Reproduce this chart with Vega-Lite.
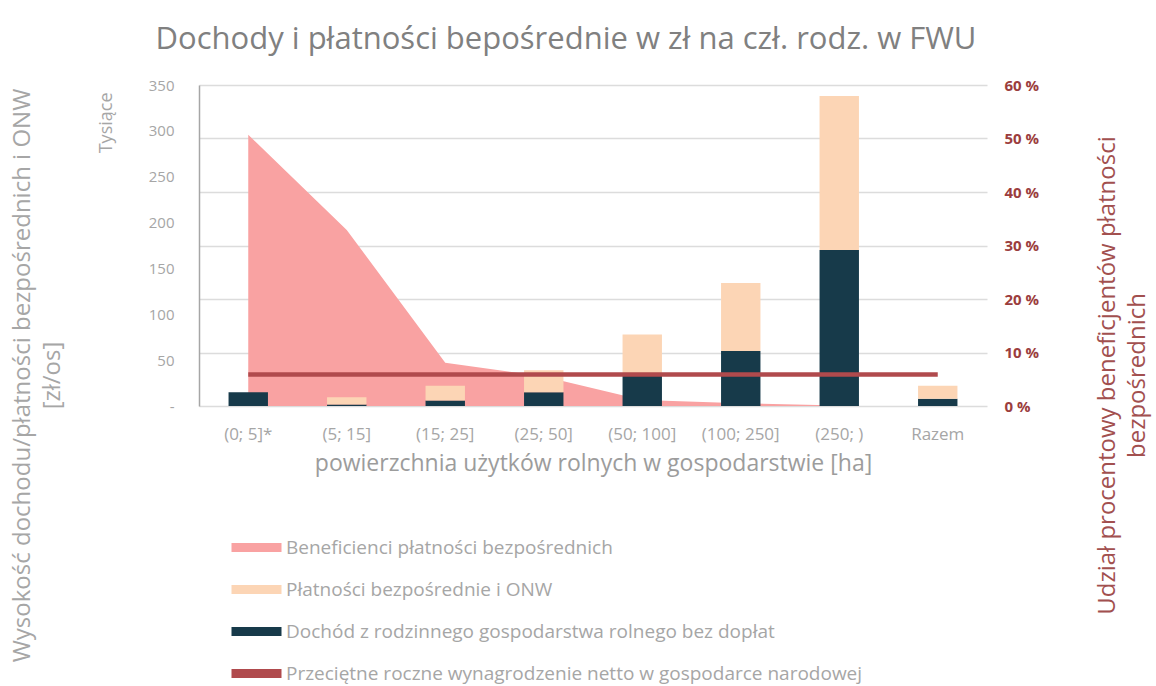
{
  "$schema": "https://vega.github.io/schema/vega-lite/v6.json",
  "width": 788,
  "height": 321,
  "autosize": {"type": "none"},
  "padding": {"left": 199, "top": 85, "right": 169, "bottom": 280},
  "background": "white",
  "config": {
    "font": "Open Sans",
    "view": {"stroke": null},
    "axisX": {"labelAngle": 0, "ticks": false, "domain": false, "grid": false, "labelColor": "#a6a6a6", "labelFontSize": 17, "labelPadding": 20, "titleColor": "#9c9c9c", "titleFontSize": 23, "titleFontWeight": "normal", "titlePadding": 10},
    "legend": {"labelFont": "Open Sans", "labelFontSize": 19, "labelColor": "#a6a6a6", "labelLimit": 800}
  },
  "title": {"text": "Dochody i płatności bepośrednie  w zł na czł. rodz. w FWU", "font": "Open Sans", "fontSize": 31, "fontWeight": "normal", "color": "#808080", "anchor": "middle", "baseline": "bottom", "offset": -9, "dx": -27},
  "datasets": {
    "bars": [
      {"cat": "(0; 5]*", "series": "Dochód z rodzinnego gospodarstwa rolnego bez dopłat", "value": 15, "ord": 1},
      {"cat": "(0; 5]*", "series": "Płatności bezpośrednie i ONW", "value": 0, "ord": 2},
      {"cat": "(5; 15]", "series": "Dochód z rodzinnego gospodarstwa rolnego bez dopłat", "value": 1.5, "ord": 1},
      {"cat": "(5; 15]", "series": "Płatności bezpośrednie i ONW", "value": 8, "ord": 2},
      {"cat": "(15; 25]", "series": "Dochód z rodzinnego gospodarstwa rolnego bez dopłat", "value": 6, "ord": 1},
      {"cat": "(15; 25]", "series": "Płatności bezpośrednie i ONW", "value": 16, "ord": 2},
      {"cat": "(25; 50]", "series": "Dochód z rodzinnego gospodarstwa rolnego bez dopłat", "value": 15, "ord": 1},
      {"cat": "(25; 50]", "series": "Płatności bezpośrednie i ONW", "value": 24, "ord": 2},
      {"cat": "(50; 100]", "series": "Dochód z rodzinnego gospodarstwa rolnego bez dopłat", "value": 36, "ord": 1},
      {"cat": "(50; 100]", "series": "Płatności bezpośrednie i ONW", "value": 42, "ord": 2},
      {"cat": "(100; 250]", "series": "Dochód z rodzinnego gospodarstwa rolnego bez dopłat", "value": 60, "ord": 1},
      {"cat": "(100; 250]", "series": "Płatności bezpośrednie i ONW", "value": 74, "ord": 2},
      {"cat": "(250; )", "series": "Dochód z rodzinnego gospodarstwa rolnego bez dopłat", "value": 170, "ord": 1},
      {"cat": "(250; )", "series": "Płatności bezpośrednie i ONW", "value": 168, "ord": 2},
      {"cat": "Razem", "series": "Dochód z rodzinnego gospodarstwa rolnego bez dopłat", "value": 8, "ord": 1},
      {"cat": "Razem", "series": "Płatności bezpośrednie i ONW", "value": 14, "ord": 2}
    ],
    "area": [
      {"cat": "(0; 5]*", "series": "Beneficienci płatności bezpośrednich", "pct": 50.7},
      {"cat": "(5; 15]", "series": "Beneficienci płatności bezpośrednich", "pct": 32.9},
      {"cat": "(15; 25]", "series": "Beneficienci płatności bezpośrednich", "pct": 8.1},
      {"cat": "(25; 50]", "series": "Beneficienci płatności bezpośrednich", "pct": 5.5},
      {"cat": "(50; 100]", "series": "Beneficienci płatności bezpośrednich", "pct": 1.1},
      {"cat": "(100; 250]", "series": "Beneficienci płatności bezpośrednich", "pct": 0.5},
      {"cat": "(250; )", "series": "Beneficienci płatności bezpośrednich", "pct": 0.1}
    ],
    "line": [
      {"cat": "(0; 5]*", "series": "Przeciętne roczne wynagrodzenie netto w gospodarce narodowej", "value": 34.3},
      {"cat": "(5; 15]", "series": "Przeciętne roczne wynagrodzenie netto w gospodarce narodowej", "value": 34.3},
      {"cat": "(15; 25]", "series": "Przeciętne roczne wynagrodzenie netto w gospodarce narodowej", "value": 34.3},
      {"cat": "(25; 50]", "series": "Przeciętne roczne wynagrodzenie netto w gospodarce narodowej", "value": 34.3},
      {"cat": "(50; 100]", "series": "Przeciętne roczne wynagrodzenie netto w gospodarce narodowej", "value": 34.3},
      {"cat": "(100; 250]", "series": "Przeciętne roczne wynagrodzenie netto w gospodarce narodowej", "value": 34.3},
      {"cat": "(250; )", "series": "Przeciętne roczne wynagrodzenie netto w gospodarce narodowej", "value": 34.3},
      {"cat": "Razem", "series": "Przeciętne roczne wynagrodzenie netto w gospodarce narodowej", "value": 34.3}
    ]
  },
  "layer": [
    {
      "data": {"name": "area"},
      "mark": {"type": "area", "opacity": 1},
      "encoding": {
        "x": {"field": "cat", "type": "nominal", "title": "powierzchnia użytków rolnych w gospodarstwie [ha]",
              "scale": {"type": "band", "paddingInner": 0.6, "paddingOuter": 0.3, "domain": ["(0; 5]*", "(5; 15]", "(15; 25]", "(25; 50]", "(50; 100]", "(100; 250]", "(250; )", "Razem"]}},
        "y": {"field": "pct", "type": "quantitative",
              "scale": {"domain": [0, 60], "nice": false},
              "axis": {"orient": "right", "values": [0, 10, 20, 30, 40, 50, 60], "labelExpr": "datum.value + ' %'",
                       "grid": true, "gridColor": "#dcdcdc", "gridWidth": 1.5, "ticks": false, "domain": false,
                       "labelColor": "#9b3d3d", "labelFontSize": 15, "labelFontWeight": "bold", "labelPadding": 17,
                       "title": ["Udział procentowy beneficjentów płatności", "bezpośrednich"],
                       "titleAngle": -90, "titleX": 108, "titleY": 290, "titleAlign": "center", "titleBaseline": "top",
                       "titleFontSize": 24, "titleLineHeight": 30, "titleColor": "#a2504f", "titleFontWeight": "normal"}},
        "color": {"field": "series", "type": "nominal",
                  "scale": {"domain": ["Beneficienci płatności bezpośrednich", "Płatności bezpośrednie i ONW", "Dochód z rodzinnego gospodarstwa rolnego bez dopłat", "Przeciętne roczne wynagrodzenie netto w gospodarce narodowej"],
                            "range": ["#f9a2a2", "#fcd5b5", "#173a4a", "#b04a4d"]},
                  "legend": {"orient": "none", "legendX": 28, "legendY": 448, "title": null, "direction": "vertical",
                             "symbolType": "M-1,0H4", "symbolSize": 400, "symbolStrokeWidth": 9, "rowPadding": 5, "labelOffset": 30,
                             "encode": {"symbols": {"update": {
                               "fill": {"value": "transparent"},
                               "stroke": {"scale": "color", "field": "value"},
                               "strokeOpacity": {"value": 1},
                               "opacity": {"value": 1},
                               "strokeWidth": {"signal": "indexof(datum.label, 'Przeci') === 0 ? 4 : 9"}}}}}}
      }
    },
    {
      "data": {"name": "bars"},
      "mark": {"type": "bar"},
      "encoding": {
        "x": {"field": "cat", "type": "nominal", "title": "powierzchnia użytków rolnych w gospodarstwie [ha]",
              "scale": {"type": "band", "paddingInner": 0.6, "paddingOuter": 0.3, "domain": ["(0; 5]*", "(5; 15]", "(15; 25]", "(25; 50]", "(50; 100]", "(100; 250]", "(250; )", "Razem"]}},
        "y": {"field": "value", "type": "quantitative", "stack": "zero",
              "scale": {"domain": [0, 350], "nice": false},
              "axis": {"orient": "left", "values": [0, 50, 100, 150, 200, 250, 300, 350],
                       "labelExpr": "datum.value === 0 ? '-' : datum.label",
                       "grid": false, "ticks": false, "domain": true, "domainColor": "#a6a6a6", "domainWidth": 1.5,
                       "labelColor": "#a6a6a6", "labelFontSize": 15, "labelPadding": 25,
                       "title": "Tysiące", "titleAngle": -90, "titleX": -102, "titleY": 7, "titleAlign": "right", "titleBaseline": "top",
                       "titleFontSize": 18, "titleFontWeight": "normal", "titleColor": "#a6a6a6"}},
        "color": {"field": "series", "type": "nominal"},
        "order": {"field": "ord", "type": "quantitative"}
      }
    },
    {
      "data": {"name": "line"},
      "mark": {"type": "line", "strokeWidth": 4.5},
      "encoding": {
        "x": {"field": "cat", "type": "nominal", "title": "powierzchnia użytków rolnych w gospodarstwie [ha]",
              "scale": {"type": "band", "paddingInner": 0.6, "paddingOuter": 0.3, "domain": ["(0; 5]*", "(5; 15]", "(15; 25]", "(25; 50]", "(50; 100]", "(100; 250]", "(250; )", "Razem"]}},
        "y": {"field": "value", "type": "quantitative",
              "scale": {"domain": [0, 350], "nice": false},
              "axis": {"orient": "left", "labels": false, "ticks": false, "domain": false, "grid": false,
                       "title": ["Wysokość dochodu/płatności bezpośrednich i ONW", "[zł/os]"],
                       "titleAngle": -90, "titleX": -189, "titleY": 290, "titleAlign": "center", "titleBaseline": "top",
                       "titleFontSize": 24, "titleLineHeight": 30, "titleColor": "#a6a6a6", "titleFontWeight": "normal"}},
        "color": {"field": "series", "type": "nominal"}
      }
    }
  ],
  "resolve": {"scale": {"y": "independent"}}
}
